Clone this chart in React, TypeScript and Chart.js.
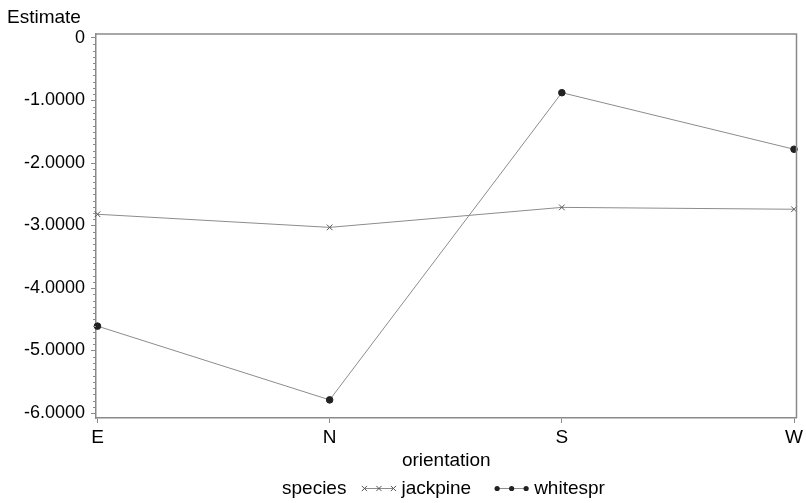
import { useEffect, useRef } from "react";
import { Chart, registerables } from "chart.js";

Chart.register(...registerables);

const categories = ["E", "N", "S", "W"];
const seriesNames = ["jackpine", "whitespr"];
const jackpine = [-2.82, -3.03, -2.71, -2.74];
const whitespr = [-4.61, -5.79, -0.875, -1.78];
const yTickValues = [0, -1, -2, -3, -4, -5, -6];
const yTickLabels = ["0", "-1.0000", "-2.0000", "-3.0000", "-4.0000", "-5.0000", "-6.0000"];
const yTitle = "Estimate";
const xTitle = "orientation";
const legendTitle = "species";

const FONT = '"Liberation Sans", Arial, sans-serif';
const AXIS_GRAY = "#8a8a8a";
const LINE_GRAY = "#8c8c8c";
const MARK = "#222222";

function drawSymbol(ctx: CanvasRenderingContext2D, style: string, x: number, y: number) {
  if (style === "circle") {
    ctx.beginPath();
    ctx.arc(x, y, 2.6, 0, Math.PI * 2);
    ctx.fillStyle = MARK;
    ctx.fill();
  } else {
    const r = 2.6;
    ctx.beginPath();
    ctx.moveTo(x - r, y - r);
    ctx.lineTo(x + r, y + r);
    ctx.moveTo(x - r, y + r);
    ctx.lineTo(x + r, y - r);
    ctx.strokeStyle = "#555";
    ctx.lineWidth = 1;
    ctx.stroke();
  }
}

const decorPlugin = {
  id: "decor",
  afterDraw(chart: any) {
    const ctx: CanvasRenderingContext2D = chart.ctx;
    const a = chart.chartArea;
    const ys = chart.scales.y;
    ctx.save();
    // frame top & right
    ctx.strokeStyle = AXIS_GRAY;
    ctx.lineWidth = 1.5;
    ctx.beginPath();
    ctx.moveTo(a.left, a.top);
    ctx.lineTo(a.right, a.top);
    ctx.lineTo(a.right, a.bottom);
    ctx.stroke();
    // minor ticks on y
    ctx.lineWidth = 1;
    ctx.beginPath();
    const kMin = Math.ceil(ys.min * 10);
    const kMax = Math.floor(ys.max * 10);
    for (let k = kMin; k <= kMax; k++) {
      if (k % 10 === 0) continue;
      const py = Math.round(ys.getPixelForValue(k / 10)) + 0.5;
      ctx.moveTo(a.left - 3, py);
      ctx.lineTo(a.left, py);
    }
    ctx.stroke();

    // texts
    ctx.fillStyle = "#000";
    ctx.font = `19px ${FONT}`;
    ctx.textBaseline = "alphabetic";
    ctx.textAlign = "left";
    ctx.fillText(yTitle, 7, 23);
    ctx.textAlign = "center";
    ctx.fillText(xTitle, (a.left + a.right) / 2, 466);

    // legend
    ctx.textAlign = "left";
    const baseY = 494;
    const symY = 488;
    let x = 282;
    ctx.fillText(legendTitle, x, baseY);
    x += ctx.measureText(legendTitle).width + 18;
    const styles = ["crossRot", "circle"];
    chart.data.datasets.forEach((ds: any, i: number) => {
      const x0 = x;
      ctx.strokeStyle = LINE_GRAY;
      ctx.lineWidth = 1;
      ctx.beginPath();
      ctx.moveTo(x0, symY + 0.5);
      ctx.lineTo(x0 + 29, symY + 0.5);
      ctx.stroke();
      for (let j = 0; j < 3; j++) drawSymbol(ctx, styles[i], x0 + j * 14.5, symY + 0.5);
      x = x0 + 29 + 8;
      ctx.fillStyle = "#000";
      ctx.fillText(ds.label, x, baseY);
      x += ctx.measureText(ds.label).width + 26;
    });
    ctx.restore();
  },
};

export default function App() {
  const ref = useRef<HTMLCanvasElement | null>(null);
  useEffect(() => {
    document.body.style.margin = "0";
    if (!ref.current) return;
    const mk = (vals: number[]) => vals.map((v, i) => ({ x: i, y: v }));
    const chart = new Chart(ref.current, {
      type: "line",
      data: {
        datasets: [
          {
            label: seriesNames[0],
            data: mk(jackpine),
            borderColor: LINE_GRAY,
            borderWidth: 1,
            pointStyle: "crossRot",
            pointRadius: 4,
            pointBorderColor: "#555",
            pointBorderWidth: 1,
            pointBackgroundColor: "#555",
            clip: false,
          },
          {
            label: seriesNames[1],
            data: mk(whitespr),
            borderColor: LINE_GRAY,
            borderWidth: 1,
            pointStyle: "circle",
            pointRadius: 3.3,
            pointBorderColor: MARK,
            pointBorderWidth: 1,
            pointBackgroundColor: MARK,
            clip: false,
          },
        ],
      },
      options: {
        animation: false,
        responsive: true,
        maintainAspectRatio: false,
        layout: { padding: { top: 34, right: 7, left: 0, bottom: 0 } },
        plugins: { legend: { display: false }, tooltip: { enabled: false }, title: { display: false } },
        scales: {
          x: {
            type: "linear",
            min: -0.0064,
            max: 3.0107,
            afterBuildTicks: (s: any) => {
              s.ticks = categories.map((_, i) => ({ value: i }));
            },
            afterFit: (s: any) => {
              s.height = 85;
            },
            ticks: {
              callback: (v: any) => categories[Math.round(Number(v))] ?? "",
              font: { family: FONT, size: 19 },
              color: "#000",
              padding: 3,
              maxRotation: 0,
              autoSkip: false,
            },
            grid: { drawOnChartArea: false, drawTicks: true, tickLength: 5, color: AXIS_GRAY, lineWidth: 1 },
            border: { display: true, color: AXIS_GRAY, width: 1.5 },
          },
          y: {
            type: "linear",
            min: -6.08,
            max: 0.064,
            afterBuildTicks: (s: any) => {
              s.ticks = yTickValues.map((v) => ({ value: v }));
            },
            afterFit: (s: any) => {
              s.width = 96;
            },
            ticks: {
              callback: (v: any) => {
                const idx = yTickValues.indexOf(Math.round(Number(v)));
                return idx >= 0 ? yTickLabels[idx] : "";
              },
              font: { family: FONT, size: 18 },
              color: "#000",
              padding: 6,
            },
            grid: { drawOnChartArea: false, drawTicks: true, tickLength: 5, color: AXIS_GRAY, lineWidth: 1 },
            border: { display: true, color: AXIS_GRAY, width: 1.5 },
          },
        },
      },
      plugins: [decorPlugin],
    });
    return () => chart.destroy();
  }, []);
  return (
    <div style={{ position: "relative", width: 806, height: 503 }}>
      <canvas ref={ref} />
    </div>
  );
}
